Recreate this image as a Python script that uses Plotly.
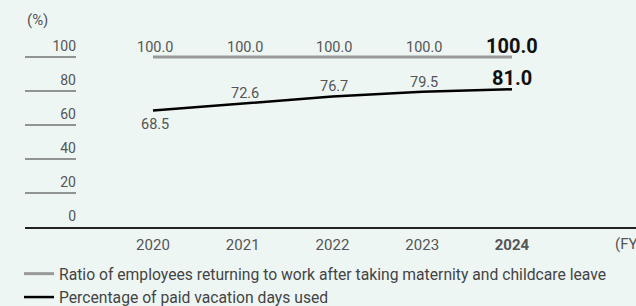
import plotly.graph_objects as go

years = [2020, 2021, 2022, 2023, 2024]
year_labels = ["2020", "2021", "2022", "2023", "<b>2024</b>"]
return_ratio = [100.0, 100.0, 100.0, 100.0, 100.0]
paid_vacation = [68.5, 72.6, 76.7, 79.5, 81.0]
y_ticks = [0, 20, 40, 60, 80, 100]
series_names = [
    "Ratio of employees returning to work after taking maternity and childcare leave",
    "Percentage of paid vacation days used",
]

BG = "#eef6f4"
FONT = "Roboto"
LABEL = "#555555"

fig = go.Figure()
fig.add_trace(go.Scatter(
    x=years, y=return_ratio, mode="lines", name=series_names[0],
    line=dict(color="#999999", width=3), hoverinfo="skip",
))
fig.add_trace(go.Scatter(
    x=years, y=paid_vacation, mode="lines", name=series_names[1],
    line=dict(color="#000000", width=2.5), hoverinfo="skip",
))

# data labels
def add_labels(vals, shifts):
    n = len(vals)
    for i, (x, v) in enumerate(zip(years, vals)):
        last = i == n - 1
        fig.add_annotation(
            x=x, y=v, xref="x", yref="y", showarrow=False,
            text=f"<b>{v:.1f}</b>" if last else f"{v:.1f}",
            xanchor="center", yanchor="middle", yshift=shifts[i],
            xshift=0 if last else 2,
            font=dict(family=FONT, size=20 if last else 14.5,
                      color="#111111" if last else LABEL),
        )

add_labels(return_ratio, [10, 10, 10, 10, 11])
add_labels(paid_vacation, [-14, 10, 10, 9, 11])

for t in y_ticks[1:]:
    fig.add_shape(type="line", xref="paper", yref="y", x0=0, x1=51 / 611,
                  y0=t, y1=t, line=dict(color="#333333", width=1))

fig.add_annotation(text="(%)", xref="paper", yref="paper", x=0, y=(227 - 20) / 197,
                   xanchor="left", yanchor="middle", showarrow=False,
                   font=dict(family=FONT, size=15, color=LABEL))
fig.add_annotation(text="(FY)", xref="paper", yref="paper", x=(612.5 - 25) / 611,
                   y=-(244 - 227) / 197,
                   xanchor="left", yanchor="middle", showarrow=False,
                   font=dict(family=FONT, size=15, color=LABEL))

fig.update_layout(
    width=636, height=306,
    margin=dict(l=25, r=0, t=30, b=79, autoexpand=False),
    paper_bgcolor=BG, plot_bgcolor=BG,
    font=dict(family=FONT, color=LABEL),
    showlegend=True,
    legend=dict(x=-6 / 611, y=-0.152, xanchor="left", yanchor="top",
                orientation="v", bgcolor="rgba(0,0,0,0)",
                font=dict(family=FONT, size=15.7, color="#444444"),
                tracegroupgap=0),
    xaxis=dict(range=[2018.574, 2025.382], tickmode="array", tickvals=years,
               ticktext=year_labels, showgrid=False, zeroline=False,
               showline=True, linecolor="#222222", linewidth=1.5,
               ticks="", ticklabelstandoff=3,
               tickfont=dict(family=FONT, size=15, color=LABEL)),
    yaxis=dict(range=[0, 115.88], tickmode="array", tickvals=y_ticks,
               showgrid=False, zeroline=False, showline=False,
               anchor="free", position=51 / 611, ticks="",
               ticklabelshift=-11,
               tickfont=dict(family=FONT, size=14, color=LABEL)),
)

fig.write_html("out.html", config={"displayModeBar": False, "staticPlot": True},
               post_script="document.body.style.margin='0';")
